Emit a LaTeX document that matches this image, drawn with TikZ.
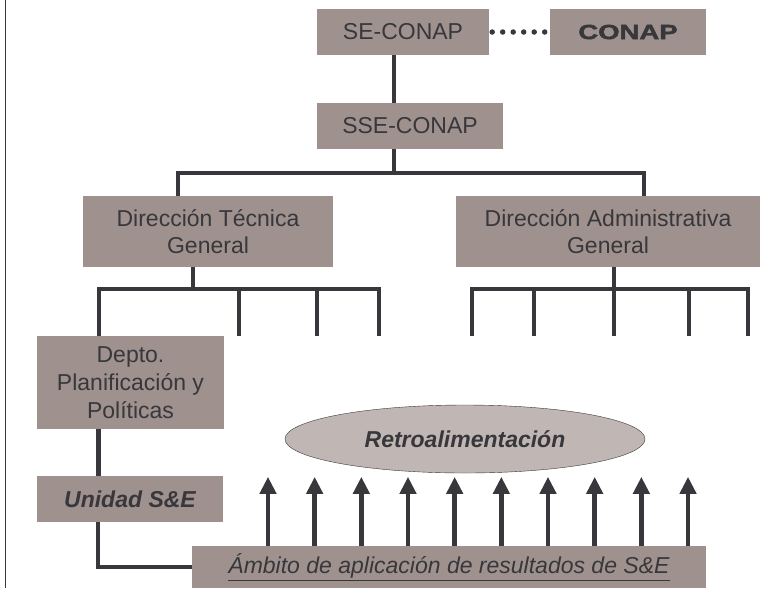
\documentclass[tikz,border=0pt]{standalone}
\usepackage{fontspec}
\setmainfont{Liberation Sans}
\newfontfamily\blackfont[BoldFeatures={FakeBold=2}]{Liberation Sans}
\usepackage{graphicx}
\usetikzlibrary{arrows.meta,shapes.geometric}
\definecolor{boxgray}{RGB}{159,146,142}
\definecolor{ovalgray}{RGB}{192,183,180}
\definecolor{linedark}{RGB}{55,55,60}
\begin{document}
\begin{tikzpicture}[x=1pt, y=-1pt,
            every node/.style={font=\fontsize{23}{27}\selectfont, text=linedark, inner sep=0pt, align=center},
            unit/.style={rectangle, fill=boxgray, minimum width=#1, minimum height=46pt},
            link/.style={draw=linedark, line width=4.5pt},
            feedback/.style={draw=linedark, line width=4.5pt, -{Triangle[width=16pt,length=17pt]}}
        ]
        \useasboundingbox (0,0) rectangle (768,590);
        \draw[linedark, line width=1pt] (5,0) -- (5,588);
        \node[unit=172pt] (secon) at (403,32) {SE-CONAP};
        \node[unit=156pt] (conap) at (628,32) {\fontsize{20.5}{24}\blackfont\bfseries\scalebox{1.34}[1]{CONAP}};
        \node[unit=186pt] (ssecon) at (410,126) {SSE-CONAP};
        \node[unit=250pt, minimum height=71pt] (dtg) at (208,231.5) {Dirección Técnica\\General};
        \node[unit=304pt, minimum height=71pt] (dag) at (608,231.5) {Dirección Administrativa\\General};
        \node[unit=187pt, minimum height=93pt, font=\fontsize{23}{28}\selectfont] (depto) at (130.5,382.5) {Depto.\\Planificación y\\Políticas};
        \node[unit=186pt] (unidad) at (130,499) {\bfseries\itshape Unidad S\&E};
        \node[unit=514pt, minimum height=42pt] (ambito) at (449,567) {\itshape\underline{Ámbito de aplicación de resultados de S\&E}};
        \node[ellipse, draw=linedark, thin, fill=ovalgray, minimum width=360pt, minimum height=68pt] (retro) at (465,439) {\bfseries\itshape Retroalimentación};

        \draw[linedark, line width=5.5pt, line cap=round, dash pattern=on 0pt off 10.5pt] ([xshift=3pt]secon.east) -- ([xshift=-3pt]conap.west);
        \draw[link] ([xshift=-9pt]secon.south) -- ([xshift=-9pt]secon.south |- ssecon.north);
        \draw[link] ([xshift=-16pt]ssecon.south) -- ++(0,24) coordinate (hub1);
        \draw[link] ([xshift=-30pt]dtg.north) |- (hub1) -| ([xshift=36pt]dag.north);

        \draw[link] ([xshift=-15pt]dtg.south) -- ++(0,22) coordinate (hub2);
        \foreach \x [count=\i] in {239,317,379} {
            \coordinate (t\i) at (\x,336);
            \draw[link] (t\i |- hub2) -- (t\i);
        }
        \draw[link] ([xshift=-31.5pt]depto.north) |- (hub2) -| (t3);

        \draw[link] ([xshift=6pt]dag.south) -- ++(0,22) coordinate (hub3);
        \foreach \x [count=\i] in {472,534,614,689,748} {
            \coordinate (a\i) at (\x,336);
            \draw[link] (a\i |- hub3) -- (a\i);
        }
        \draw[link] (a1) |- (hub3) -| (a5);

        \draw[link] ([xshift=-32pt]depto.south) -- ([xshift=-32pt]depto.south |- unidad.north);
        \draw[link] ([xshift=-32pt]unidad.south) |- (ambito.west);
        \foreach \i in {0,...,9}
            \draw[feedback] ([xshift={-181pt+46.67pt*\i}]ambito.north) -- ++(0,-69);
        \end{tikzpicture}
\end{document}
